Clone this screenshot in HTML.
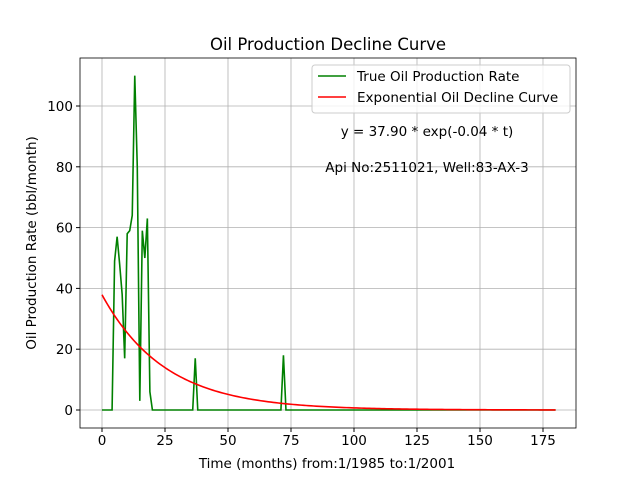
<!DOCTYPE html>
<html><head><meta charset="utf-8"><style>
body{margin:0;background:#fff}
svg text{font-family:"DejaVu Sans","Liberation Sans",sans-serif;fill:#000}
</style></head><body>
<svg width="640" height="480">
<g id="g"></g>
</svg>
<script>
const months=[0,1,2,3,4,5,6,7,8,9,10,11,12,13,14,15,16,17,18,19,20,36,37,38,71,72,73,180];
const rates=[0,0,0,0,0,49,57,48,38,17,58,59,64,110,80,3,59,50,63,6,0,0,17,0,0,18,0,0];
const xTicks=[0,25,50,75,100,125,150,175];
const yTicks=[0,20,40,60,80,100];
const A=37.90,k=0.04;
const L=80,R=576,T=58,B=428;
const X=v=>102+v*(441/175);
const Y=v=>410-v*3.04;
const g=document.getElementById('g');
const NS='http://www.w3.org/2000/svg';
function mk(t,a,txt){const e=document.createElementNS(NS,t);for(const k in a)e.setAttribute(k,a[k]);if(txt!=null)e.textContent=txt;g.appendChild(e);return e;}
xTicks.forEach(v=>{
const l=mk('line',{x1:X(v),x2:X(v),y1:T,y2:B,stroke:'#b0b0b0','stroke-width':0.8});

mk('line',{x1:X(v),x2:X(v),y1:B,y2:B+4,stroke:'#000'});
const t=mk('text',{x:X(v),y:B+17,'text-anchor':'middle','font-size':13.5},v);

});
yTicks.forEach(v=>{
const l=mk('line',{x1:L,x2:R,y1:Y(v),y2:Y(v),stroke:'#b0b0b0','stroke-width':0.8});

mk('line',{x1:L-4,x2:L,y1:Y(v),y2:Y(v),stroke:'#000'});
const t=mk('text',{x:L-7,y:Y(v)+5,'text-anchor':'end','font-size':13.5},v);

});
let p=[];for(let i=0;i<months.length;i++)p.push(X(months[i])+','+Y(rates[i]));
const tl=mk('polyline',{points:p.join(' '),fill:'none',stroke:'green','stroke-width':1.6});

p=[];for(let t=0;t<=180;t++)p.push(X(t)+','+Y(A*Math.exp(-k*t)));
const el=mk('polyline',{points:p.join(' '),fill:'none',stroke:'red','stroke-width':1.6});

const fr=mk('rect',{x:L,y:T,width:R-L,height:B-T,fill:'none',stroke:'#000','stroke-width':0.8});

</script>
<svg width="640" height="480" style="position:absolute;left:0;top:0">
<text x="328" y="50" text-anchor="middle" font-size="16.5">Oil Production Decline Curve</text>
<text x="327" y="468" text-anchor="middle" font-size="13.5">Time (months) from:1/1985 to:1/2001</text>
<text transform="translate(36,243) rotate(-90)" text-anchor="middle" font-size="13.5">Oil Production Rate (bbl/month)</text>
<g>
<rect x="312" y="65" width="258" height="48" rx="3" fill="#fff" fill-opacity="0.8" stroke="#ccc"/>
<line x1="318" y1="76" x2="346" y2="76" stroke="green" stroke-width="1.6"/>
<text x="357" y="81" font-size="13.5">True Oil Production Rate</text>
<line x1="318" y1="97" x2="346" y2="97" stroke="red" stroke-width="1.6"/>
<text x="357" y="102" font-size="13.5">Exponential Oil Decline Curve</text>
</g>
<text x="427" y="136" text-anchor="middle" font-size="13.5">y = 37.90 * exp(-0.04 * t)</text>
<text x="427" y="172" text-anchor="middle" font-size="13.5">Api No:2511021, Well:83-AX-3</text>
</svg>
</body></html>
